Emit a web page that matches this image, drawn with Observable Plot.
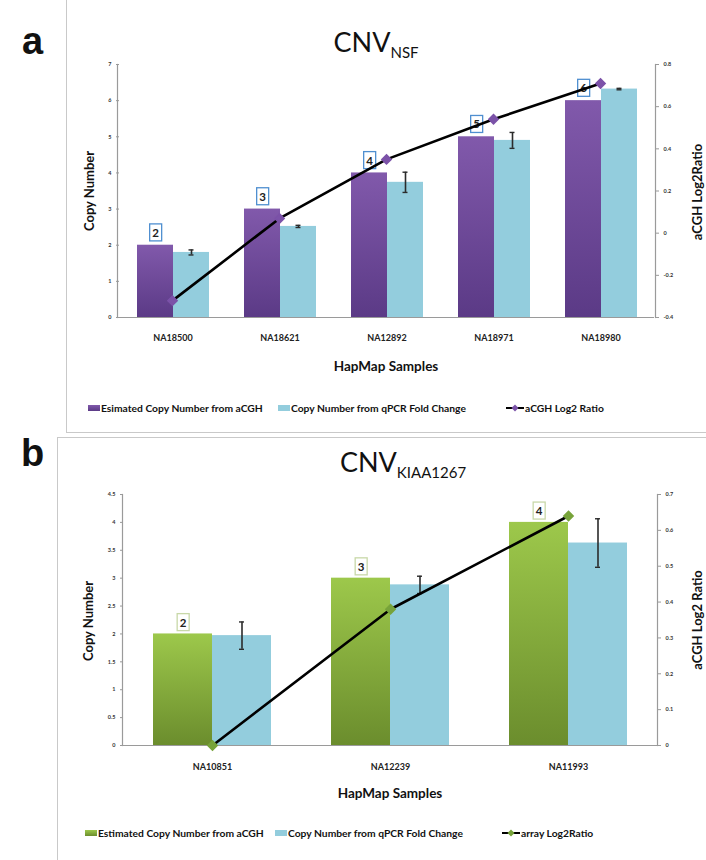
<!DOCTYPE html>
<html><head><meta charset="utf-8">
<script src="https://cdn.jsdelivr.net/npm/d3@7"></script>
<script src="https://cdn.jsdelivr.net/npm/@observablehq/plot@0.6"></script>
<style>
body{margin:0;background:#fff;font-family:Lato,"Open Sans",sans-serif;}
#root{position:relative;width:706px;height:860px;overflow:hidden;background:#fff;}
.abs{position:absolute;}
.panelLetter{font-family:"Liberation Sans",Arial,sans-serif;font-weight:bold;font-size:38px;color:#111;line-height:1;}
.title{font-size:27px;color:#111;line-height:1;white-space:nowrap;transform:translateX(-50%);}
.title sub{font-size:15px;vertical-align:baseline;position:relative;top:6px;}
.ytitle{font-weight:bold;font-size:13px;line-height:1;color:#111;white-space:nowrap;transform:translate(-50%,-50%) rotate(-90deg);}
.xtitle{font-weight:bold;font-size:13.5px;color:#111;white-space:nowrap;transform:translate(-50%,-50%);}
.litem{display:flex;align-items:center;font-weight:bold;font-size:10.3px;color:#111;white-space:nowrap;transform:translateY(-50%);}
.litem .sw{display:inline-block;width:12px;height:6px;margin-right:1px;}
.box{position:absolute;border:1px solid #c9c9c9;}
</style></head><body><div id="root"></div>
<script>
// ---------- Panel a data ----------
const samplesA   = ["NA18500","NA18621","NA12892","NA18971","NA18980"];
const estCopyA   = [2, 3, 4, 5, 6];
const qpcrCopyA  = [1.80, 2.52, 3.74, 4.90, 6.32];
const qpcrErrA   = [0.07, 0.03, 0.28, 0.22, 0.02];
const log2A      = [-0.32, 0.07, 0.35, 0.54, 0.71];
const copyTicksA = [0, 1, 2, 3, 4, 5, 6, 7];
const ratioTicksA= [-0.4, -0.2, 0, 0.2, 0.4, 0.6, 0.8];
const legendA    = ["Esimated Copy Number from aCGH","Copy Number from qPCR Fold Change","aCGH Log2 Ratio"];

// ---------- Panel b data ----------
const samplesB   = ["NA10851","NA12239","NA11993"];
const estCopyB   = [2, 3, 4];
const qpcrCopyB  = [1.97, 2.88, 3.63];
const qpcrErrB   = [0.245, 0.155, 0.435];
const log2B      = [0, 0.38, 0.64];
const copyTicksB = [0, 0.5, 1, 1.5, 2, 2.5, 3, 3.5, 4, 4.5];
const ratioTicksB= [0, 0.1, 0.2, 0.3, 0.4, 0.5, 0.6, 0.7];
const legendB    = ["Estimated Copy Number from aCGH","Copy Number from qPCR Fold Change","array Log2Ratio"];

const root = document.getElementById("root");
const FONT = "Lato, 'Open Sans', sans-serif";
const BLUE = "#93cddd";

function el(html, cls, style){
  const d=document.createElement("div");
  d.className="abs "+(cls||"");
  d.innerHTML=html;
  Object.assign(d.style, style||{});
  root.appendChild(d);
  return d;
}

function drawPanel(cfg){
  const rows = cfg.samples.flatMap((s,i)=>[
    {sample:s, series:"est", value:cfg.est[i]},
    {sample:s, series:"qpcr", value:cfg.qpcr[i], err:cfg.err[i]}
  ]);
  const estRows = rows.filter(d=>d.series==="est");
  const qRows = rows.filter(d=>d.series==="qpcr");
  const lineRows = cfg.samples.map((s,i)=>({sample:s, ratio:cfg.ratio[i]}));
  const common = {width:706, height:cfg.H, marginLeft:cfg.mL, marginRight:cfg.mR,
    marginTop:cfg.mT, marginBottom:cfg.mB, style:{background:"transparent", fontFamily:FONT}};

  const bars = Plot.plot({
    ...common,
    fx:{domain:cfg.samples, paddingInner:0, paddingOuter:0, label:null},
    x:{domain:["est","qpcr"], paddingInner:0, paddingOuter:cfg.po, axis:null},
    y:{domain:cfg.copyDomain, label:null},
    marks:[
      Plot.axisFx({anchor:"bottom", tickSize:0, tickPadding:cfg.tp, fontSize:9, fontWeight:"bold", fill:"#222", label:null}),
      Plot.axisY({ticks:cfg.copyTicks, anchor:"left", tickSize:3, tickPadding:5, fontSize:5.5, fontWeight:"bold", stroke:"#999", fill:"#333", label:null, tickFormat:d=>String(d)}),
      Plot.barY(estRows, {fx:"sample", x:"series", y:"value", fill:`url(#${cfg.gradId})`}),
      Plot.barY(qRows, {fx:"sample", x:"series", y:"value", fill:BLUE}),
      Plot.ruleX(qRows, {fx:"sample", x:"series", y1:d=>d.value-d.err, y2:d=>d.value+d.err, stroke:"#2b2b2b", strokeWidth:1.6}),
      Plot.tickY(qRows, {fx:"sample", x:"series", y:d=>d.value-d.err, stroke:"#2b2b2b", strokeWidth:1.4, insetLeft:cfg.capInset, insetRight:cfg.capInset}),
      Plot.tickY(qRows, {fx:"sample", x:"series", y:d=>d.value+d.err, stroke:"#2b2b2b", strokeWidth:1.4, insetLeft:cfg.capInset, insetRight:cfg.capInset}),
      Plot.ruleY([cfg.copyDomain[0]], {stroke:"#9a9a9a", strokeWidth:1.2}),
      Plot.text(estRows, {fx:"sample", x:"series", y:"value", dy:cfg.labelDy, text:d=>String(d.value), fontSize:11.5, fontWeight:"bold", fill:"#222", ariaDescription:"data-label"})
    ]
  });
  bars.style.position="absolute"; bars.style.left="0px"; bars.style.top=cfg.top+"px";
  root.appendChild(bars);
  const g = cfg.grad;
  d3.select(bars).insert("defs",":first-child").html(
    `<linearGradient id="${cfg.gradId}" x1="0" y1="0" x2="0" y2="1"><stop offset="0" stop-color="${g[0]}"/><stop offset="1" stop-color="${g[1]}"/></linearGradient>`);
  // boxes behind the data labels, sized from the rendered text
  d3.select(bars).selectAll('[aria-description="data-label"] text').each(function(){
    const b=this.getBBox();
    const t=this.getAttribute("transform");
    const r=d3.select(this.parentNode).insert("rect", ()=>this)
      .attr("x", b.x-2.5).attr("y", b.y-2).attr("width", b.width+5).attr("height", b.height+4)
      .attr("fill","white").attr("stroke", cfg.boxStroke).attr("stroke-width",1.3);
    if (t) r.attr("transform", t);
  });

  const line = Plot.plot({
    ...common,
    x:{type:"point", domain:cfg.samples, padding:0.5, axis:null},
    y:{domain:cfg.ratioDomain, label:null},
    marks:[
      Plot.frame({anchor:"left", stroke:"#9a9a9a", strokeWidth:1.2}),
      Plot.frame({anchor:"right", stroke:"#9a9a9a", strokeWidth:1.2}),
      Plot.axisY({ticks:cfg.ratioTicks, anchor:"right", tickSize:3, tickPadding:5, fontSize:5.5, fontWeight:"bold", stroke:"#999", fill:"#333", label:null, tickFormat:d=>String(d)}),
      Plot.line(lineRows, {x:"sample", y:"ratio", stroke:"#000", strokeWidth:2.6}),
      Plot.dot(lineRows, {x:"sample", y:"ratio", symbol:"diamond2", r:4.2, fill:cfg.marker, stroke:cfg.marker})
    ]
  });
  line.style.position="absolute"; line.style.left="0px"; line.style.top=cfg.top+"px";
  root.appendChild(line);
}

// Panel frames
el("", "box", {left:"66px", top:"-2px", width:"660px", height:"433px"});
el("", "box", {left:"57px", top:"437px", width:"670px", height:"440px"});

el("a","panelLetter",{left:"22px", top:"22px"});
el("b","panelLetter",{left:"21px", top:"434px"});

drawPanel({samples:samplesA, est:estCopyA, qpcr:qpcrCopyA, err:qpcrErrA, ratio:log2A,
  copyTicks:copyTicksA, ratioTicks:ratioTicksA, copyDomain:[0,7], ratioDomain:[-0.4,0.8],
  top:0, H:345, mL:117, mR:51, mT:64, mB:28, po:0.454, tp:17, capInset:15.5, labelDy:-12,
  gradId:"gradA", grad:["#8159ab","#5b3a86"], boxStroke:"#4f8fd0", marker:"#7b52a8"});

drawPanel({samples:samplesB, est:estCopyB, qpcr:qpcrCopyB, err:qpcrErrB, ratio:log2B,
  copyTicks:copyTicksB, ratioTicks:ratioTicksB, copyDomain:[0,4.5], ratioDomain:[0,0.7],
  top:437, H:350, mL:122, mR:49, mT:57, mB:42, po:0.486, tp:18, capInset:27, labelDy:-11,
  gradId:"gradB", grad:["#9dc84b","#6b8d2d"], boxStroke:"#c8d8a8", marker:"#77a33a"});

// Titles
el("CNV<sub>NSF</sub>","title",{left:"376px", top:"28px"});
el("CNV<sub>KIAA1267</sub>","title",{left:"403px", top:"448px"});

el("Copy Number","ytitle",{left:"89px", top:"191px"});
el("aCGH Log2Ratio","ytitle",{left:"697px", top:"192px"});
el("Copy Number","ytitle",{left:"88px", top:"621px"});
el("aCGH Log2 Ratio","ytitle",{left:"697px", top:"620px"});

el("HapMap Samples","xtitle",{left:"386px", top:"366px"});
el("HapMap Samples","xtitle",{left:"390px", top:"793px"});

function legend(labels, grad, marker, xs, top){
  const line = `<svg width="18" height="8" style="margin-right:1px"><line x1="0" y1="4" x2="18" y2="4" stroke="#000" stroke-width="2"/><rect x="6.5" y="1.5" width="5" height="5" fill="${marker}" transform="rotate(45 9 4)"/></svg>`;
  el(`<span class="sw" style="background:linear-gradient(${grad[0]},${grad[1]})"></span>${labels[0]}`, "litem", {left:xs[0]+"px", top:top+"px"});
  el(`<span class="sw" style="background:${BLUE}"></span>${labels[1]}`, "litem", {left:xs[1]+"px", top:top+"px"});
  el(`${line}${labels[2]}`, "litem", {left:xs[2]+"px", top:top+"px"});
}
legend(legendA, ["#8159ab","#5b3a86"], "#7b52a8", [88, 278, 506], 408);
legend(legendB, ["#9dc84b","#6b8d2d"], "#77a33a", [85, 275, 502], 833);
</script></body></html>
